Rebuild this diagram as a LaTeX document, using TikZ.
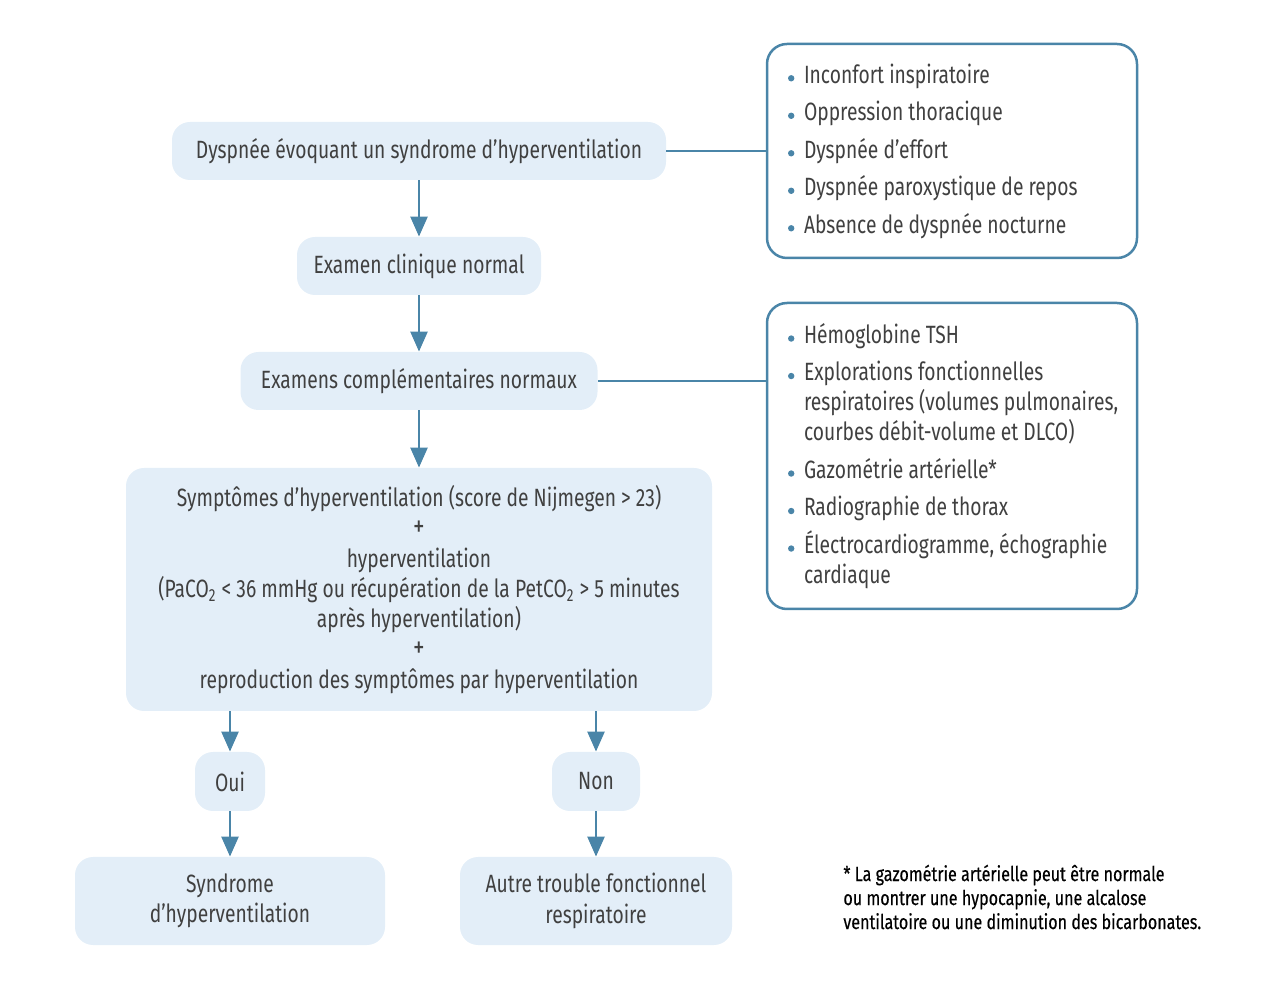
\documentclass[tikz,border=0pt]{standalone}
\usepackage{fontspec}
\setmainfont{Fira Sans}[FakeStretch=0.77]
\newfontfamily\footfont{Fira Sans}[FakeStretch=0.79, FakeBold=0.4]
\usetikzlibrary{arrows.meta}
\definecolor{boxfill}{HTML}{E3EEF8}
\definecolor{lc}{HTML}{4A85A8}
\definecolor{txt}{HTML}{404040}
\newcommand{\bul}{\makebox[8pt][l]{\tikz[baseline=0pt]\fill[lc] (1.6pt,2.4pt) circle (1.6pt);}}
\newcommand{\li}[1]{\mbox{\bul #1}}
\newcommand{\lc}[1]{\mbox{\hspace*{8pt}#1}}
\newcommand{\plus}{{\fontsize{15}{15}\selectfont +}}
\begin{document}
\begin{tikzpicture}[x=0.5pt,y=-0.5pt,
  box/.style={fill=boxfill, rounded corners=9pt, align=center, text=txt, inner sep=0pt,
    font=\fontsize{12.5}{15.15}\selectfont},
  side/.style={draw=lc, line width=1.25pt, fill=white, rounded corners=10pt, align=flush left,
    text=txt, text width=164pt, inner xsep=10.5pt, inner ysep=0pt,
    font=\fontsize{12.5}{15}\selectfont},
  arr/.style={draw=lc, line width=1.25pt, -{Triangle[length=10pt,width=8.5pt]}},
  link/.style={draw=lc, line width=1.25pt}]
\useasboundingbox (0,0) rectangle (1280,1004);
\node[box, minimum width=247pt, minimum height=29pt] (a) at (419,151)
  {Dyspnée évoquant un syndrome d’hyperventilation};
\node[box, minimum width=122pt, minimum height=29pt] (b) at (419,266)
  {Examen clinique normal};
\node[box, minimum width=178.5pt, minimum height=29pt] (c) at (419,381)
  {Examens complémentaires normaux};
\node[box, minimum width=293pt, minimum height=121.5pt] (d) at (419,589.5)
  {Symptômes d’hyperventilation (score de Nijmegen > 23)\\
   \plus\\
   hyperventilation\\
   (PaCO\textsubscript{2} < 36 mmHg ou récupération de la PetCO\textsubscript{2} > 5 minutes\\
   après hyperventilation)\\
   \plus\\
   reproduction des symptômes par hyperventilation};
\node[box, minimum width=35pt, minimum height=29.5pt] (oui) at (230,781.5) {Oui};
\node[box, minimum width=44pt, minimum height=29.5pt] (non) at (596,781.5) {Non};
\node[box, minimum width=155pt, minimum height=44pt] (syn) at (230,901)
  {Syndrome\\d’hyperventilation};
\node[box, minimum width=136pt, minimum height=44pt] (aut) at (596,901)
  {Autre trouble fonctionnel\\respiratoire};
\node[side, minimum height=107pt] (r1) at (952,151)
  {\li{Inconfort inspiratoire}\\[3.75pt]
   \li{Oppression thoracique}\\[3.75pt]
   \li{Dyspnée d’effort}\\[3.75pt]
   \li{Dyspnée paroxystique de repos}\\[3.75pt]
   \li{Absence de dyspnée nocturne}};
\node[side, minimum height=153pt] (r2) at (952,456)
  {\li{Hémoglobine TSH}\\[3.75pt]
   \li{Explorations fonctionnelles}\\
   \lc{respiratoires (volumes pulmonaires,}\\
   \lc{courbes débit-volume et DLCO)}\\[3.75pt]
   \li{Gazométrie artérielle*}\\[3.75pt]
   \li{Radiographie de thorax}\\[3.75pt]
   \li{Électrocardiogramme, échographie}\\
   \lc{cardiaque}};
\node[anchor=west, align=left, inner sep=0pt, text=black,
  font=\footfont\fontsize{10.2}{12}\selectfont] (fn) at (843,897)
  {* La gazométrie artérielle peut être normale\\
   ou montrer une hypocapnie, une alcalose\\
   ventilatoire ou une diminution des bicarbonates.};
\draw[arr] (a) -- (b);
\draw[arr] (b) -- (c);
\draw[arr] (c) -- (d);
\draw[arr] (oui |- d.south) -- (oui.north);
\draw[arr] (non |- d.south) -- (non.north);
\draw[arr] (oui) -- (syn);
\draw[arr] (non) -- (aut);
\draw[link] (a.east) -- (r1.west);
\draw[link] (c.east) -- (c.east -| r2.west);
\end{tikzpicture}
\end{document}
